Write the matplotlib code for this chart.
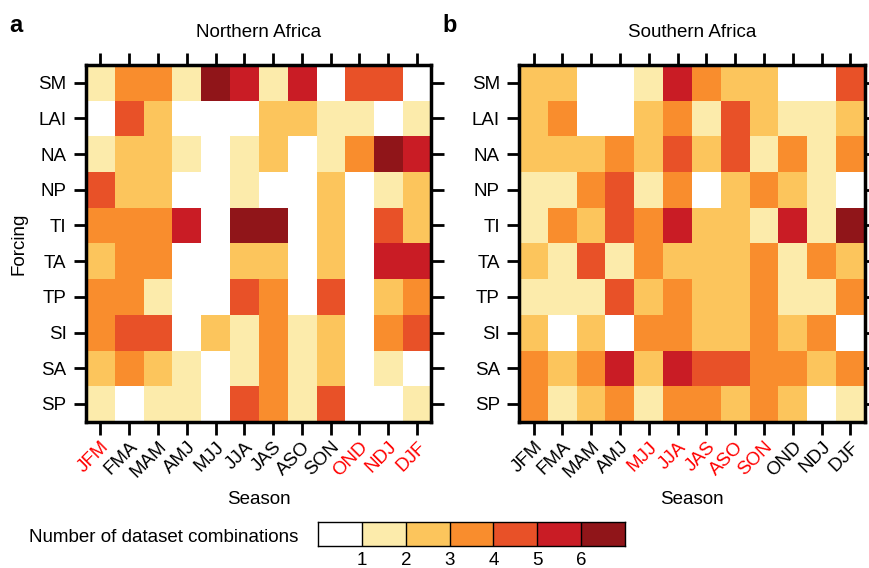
import numpy as np
import matplotlib
matplotlib.use('Agg')
import matplotlib.pyplot as plt
from matplotlib.colors import ListedColormap, BoundaryNorm

plt.rcParams['font.family'] = ['Liberation Sans', 'DejaVu Sans']

seasons = ['JFM', 'FMA', 'MAM', 'AMJ', 'MJJ', 'JJA', 'JAS', 'ASO', 'SON', 'OND', 'NDJ', 'DJF']
forcings = ['SM', 'LAI', 'NA', 'NP', 'TI', 'TA', 'TP', 'SI', 'SA', 'SP']

# number of dataset combinations, rows = forcings, cols = seasons
north = [
    [1, 3, 3, 1, 6, 5, 1, 5, 0, 4, 4, 0],
    [0, 4, 2, 0, 0, 0, 2, 2, 1, 1, 0, 1],
    [1, 2, 2, 1, 0, 1, 2, 0, 1, 3, 6, 5],
    [4, 2, 2, 0, 0, 1, 0, 0, 2, 0, 1, 2],
    [3, 3, 3, 5, 0, 6, 6, 0, 2, 0, 4, 2],
    [2, 3, 3, 0, 0, 2, 2, 0, 2, 0, 5, 5],
    [3, 3, 1, 0, 0, 4, 3, 0, 4, 0, 2, 3],
    [3, 4, 4, 0, 2, 1, 3, 1, 2, 0, 3, 4],
    [2, 3, 2, 1, 0, 1, 3, 1, 2, 0, 1, 0],
    [1, 0, 1, 1, 0, 4, 3, 1, 4, 0, 0, 1],
]
south = [
    [2, 2, 0, 0, 1, 5, 3, 2, 2, 0, 0, 4],
    [2, 3, 0, 0, 2, 3, 1, 4, 2, 1, 1, 2],
    [2, 2, 2, 3, 2, 4, 2, 4, 1, 3, 1, 3],
    [1, 1, 3, 4, 1, 3, 0, 2, 3, 2, 1, 0],
    [1, 3, 2, 4, 3, 5, 2, 2, 1, 5, 1, 6],
    [2, 1, 4, 1, 3, 2, 2, 2, 3, 1, 3, 2],
    [1, 1, 1, 4, 2, 3, 2, 2, 3, 1, 1, 3],
    [2, 0, 2, 0, 3, 3, 2, 2, 3, 2, 3, 0],
    [3, 2, 3, 5, 2, 5, 4, 4, 3, 3, 2, 3],
    [3, 1, 2, 3, 1, 3, 3, 2, 3, 2, 0, 1],
]
red_north = ['JFM', 'OND', 'NDJ', 'DJF']
red_south = ['MJJ', 'JJA', 'JAS', 'ASO', 'SON']

colors = ['#FFFFFF', '#FCEBAB', '#FCC55C', '#F98D2D', '#E85128', '#C91C25', '#901519']
cmap = ListedColormap(colors)
norm = BoundaryNorm(np.arange(-0.5, 7.5, 1), cmap.N)

fig = plt.figure(figsize=(8.69, 5.68), dpi=100)

panels = [
    (0.0990, north, 'Northern Africa', red_north, 'a'),
    (0.5976, south, 'Southern Africa', red_south, 'b'),
]
for left, data, title, reds, letter in panels:
    ax = fig.add_axes([left, 0.2576, 0.3975, 0.628])
    ax.imshow(np.array(data), cmap=cmap, norm=norm, aspect='auto', interpolation='nearest')
    ax.set_xticks(range(len(seasons)))
    ax.set_xticklabels(seasons, rotation=45, ha='right', rotation_mode='anchor', fontsize=13.5)
    for lab in ax.get_xticklabels():
        if lab.get_text() in reds:
            lab.set_color('red')
    ax.set_yticks(range(len(forcings)))
    ax.set_yticklabels(forcings, fontsize=13.5)
    ax.tick_params(direction='out', top=True, right=True, length=9, width=2, pad=3)
    ax.tick_params(axis='y', pad=5)
    for s in ax.spines.values():
        s.set_linewidth(2.5)
    ax.set_title(title, fontsize=13.5, pad=20)
    ax.set_xlabel('Season', fontsize=13.5, labelpad=7)
    if letter == 'a':
        ax.set_ylabel('Forcing', fontsize=13.5)
        ax.yaxis.set_label_coords(-0.168, 0.5)
    fig.text(left - 0.088, 0.955, letter, fontsize=17, fontweight='bold', ha='left', va='center')

# discrete colour key
cax = fig.add_axes([0.366, 0.0387, 0.3533, 0.0423])
cax.imshow(np.arange(len(colors))[None, :], cmap=cmap, norm=norm, aspect='auto',
           extent=[0, len(colors), 0, 1])
for b in range(1, len(colors)):
    cax.axvline(b, color='black', lw=1)
cax.set_xticks(range(1, len(colors)))
cax.set_xticklabels([str(i) for i in range(1, len(colors))], fontsize=13.5)
cax.set_yticks([])
cax.tick_params(length=0, pad=4)
for s in cax.spines.values():
    s.set_linewidth(1)
fig.text(0.343, 0.054, 'Number of dataset combinations', fontsize=13.5, ha='right', va='center')

fig.savefig('out.png', dpi=100)
